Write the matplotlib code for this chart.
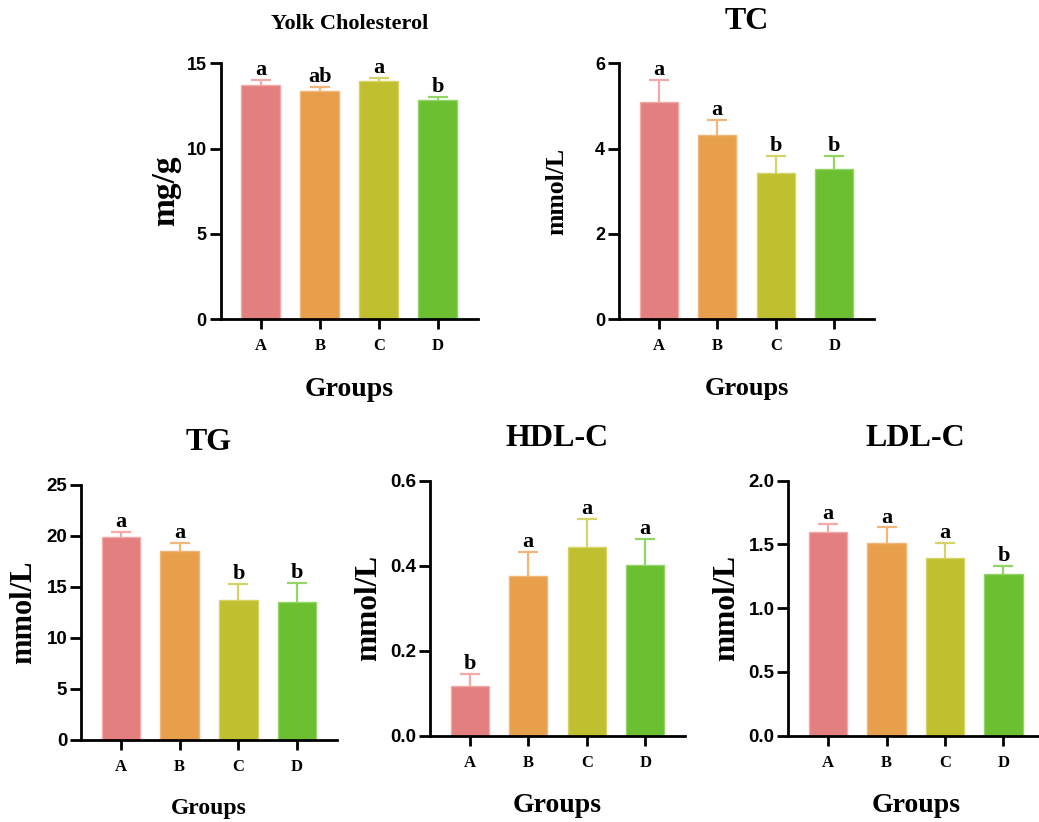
import numpy as np
import matplotlib
matplotlib.use('Agg')
from matplotlib import pyplot as plt

groups = ["A", "B", "C", "D"]
bar_colors = ["#E37F7E", "#E89F4B", "#BFBF30", "#6CBF30"]
cap_colors = ["#F2A9A8", "#F2B679", "#D4D466", "#92D466"]

yolk_mean = [13.72, 13.37, 13.96, 12.86]
yolk_err = [0.30, 0.22, 0.19, 0.18]
yolk_sig = ["a", "ab", "a", "b"]
yolk_ticks = ["0", "5", "10", "15"]

tc_mean = [5.09, 4.32, 3.43, 3.51]
tc_err = [0.52, 0.35, 0.40, 0.32]
tc_sig = ["a", "a", "b", "b"]
tc_ticks = ["0", "2", "4", "6"]

tg_mean = [19.87, 18.50, 13.73, 13.56]
tg_err = [0.53, 0.78, 1.60, 1.83]
tg_sig = ["a", "a", "b", "b"]
tg_ticks = ["0", "5", "10", "15", "20", "25"]

hdl_mean = [0.117, 0.376, 0.445, 0.402]
hdl_err = [0.029, 0.056, 0.066, 0.061]
hdl_sig = ["b", "a", "a", "a"]
hdl_ticks = ["0.0", "0.2", "0.4", "0.6"]

ldl_mean = [1.60, 1.514, 1.396, 1.27]
ldl_err = [0.06, 0.12, 0.113, 0.06]
ldl_sig = ["a", "a", "a", "b"]
ldl_ticks = ["0.0", "0.5", "1.0", "1.5", "2.0"]

SERIF = "Liberation Serif"
SANS = "Liberation Sans"


def draw_panel(ax, means, errs, sig, title, ylabel, ticklabels, tfs=23, ylfs=22,
               ylpad=8, xlfs=20, tickfs=13):
    x = np.arange(len(groups))
    ax.bar(x, means, width=0.656, color=bar_colors, edgecolor=cap_colors, linewidth=1.0, zorder=2)
    for i in range(len(groups)):
        _, caps, _ = ax.errorbar(x[i], means[i], yerr=[[0], [errs[i]]], fmt='none',
                                 ecolor=cap_colors[i], elinewidth=1.6, capsize=7.2,
                                 capthick=1.6, zorder=1)
        caps[0].set_visible(False)
        ax.annotate(sig[i], (x[i], means[i] + errs[i]), xytext=(0, 3.5),
                    textcoords='offset points', ha='center', va='baseline',
                    fontfamily=SERIF, fontweight='bold', fontsize=16)
    yvals = [float(t) for t in ticklabels]
    ax.set_xlim(-0.68, 3.68)
    ax.set_ylim(yvals[0], yvals[-1])
    ax.set_yticks(yvals)
    ax.set_yticklabels(ticklabels, fontfamily=SANS, fontweight='bold', fontsize=tickfs)
    ax.set_xticks(x)
    ax.set_xticklabels(groups, fontfamily=SERIF, fontweight='bold', fontsize=12)
    ax.spines['top'].set_visible(False)
    ax.spines['right'].set_visible(False)
    ax.spines['left'].set_linewidth(2)
    ax.spines['bottom'].set_linewidth(2)
    ax.tick_params(axis='both', direction='out', width=2, colors='black')
    ax.tick_params(axis='x', length=7, pad=7)
    ax.tick_params(axis='y', length=8, pad=2)
    ax.set_title(title, fontfamily=SERIF, fontweight='bold', fontsize=tfs, pad=25)
    ax.set_ylabel(ylabel, fontfamily=SERIF, fontweight='bold', fontsize=ylfs, labelpad=ylpad)
    ax.set_xlabel("Groups", fontfamily=SERIF, fontweight='bold', fontsize=xlfs, labelpad=16)


fig = plt.figure(figsize=(10.39, 8.22), dpi=100)

ax1 = fig.add_axes([0.2124, 0.6119, 0.2476, 0.3111])
ax2 = fig.add_axes([0.5958, 0.6119, 0.2454, 0.3111])
ax3 = fig.add_axes([0.0780, 0.0998, 0.2464, 0.3102])
ax4 = fig.add_axes([0.4139, 0.1050, 0.2454, 0.3102])
ax5 = fig.add_axes([0.7587, 0.1050, 0.2454, 0.3102])

draw_panel(ax1, yolk_mean, yolk_err, yolk_sig, "Yolk Cholesterol", "mg/g", yolk_ticks,
           tfs=16, ylfs=24, ylpad=4, xlfs=20, tickfs=13)
draw_panel(ax2, tc_mean, tc_err, tc_sig, "TC", "mmol/L", tc_ticks,
           tfs=23, ylfs=18.5, ylpad=19, xlfs=19, tickfs=13)
draw_panel(ax3, tg_mean, tg_err, tg_sig, "TG", "mmol/L", tg_ticks,
           tfs=23, ylfs=22, ylpad=6, xlfs=17, tickfs=13.5)
draw_panel(ax4, hdl_mean, hdl_err, hdl_sig, "HDL-C", "mmol/L", hdl_ticks,
           tfs=23, ylfs=22.5, ylpad=5, xlfs=20, tickfs=13.5)
draw_panel(ax5, ldl_mean, ldl_err, ldl_sig, "LDL-C", "mmol/L", ldl_ticks,
           tfs=23, ylfs=22.5, ylpad=5, xlfs=20, tickfs=13.5)

fig.savefig("out.png", dpi=100)
